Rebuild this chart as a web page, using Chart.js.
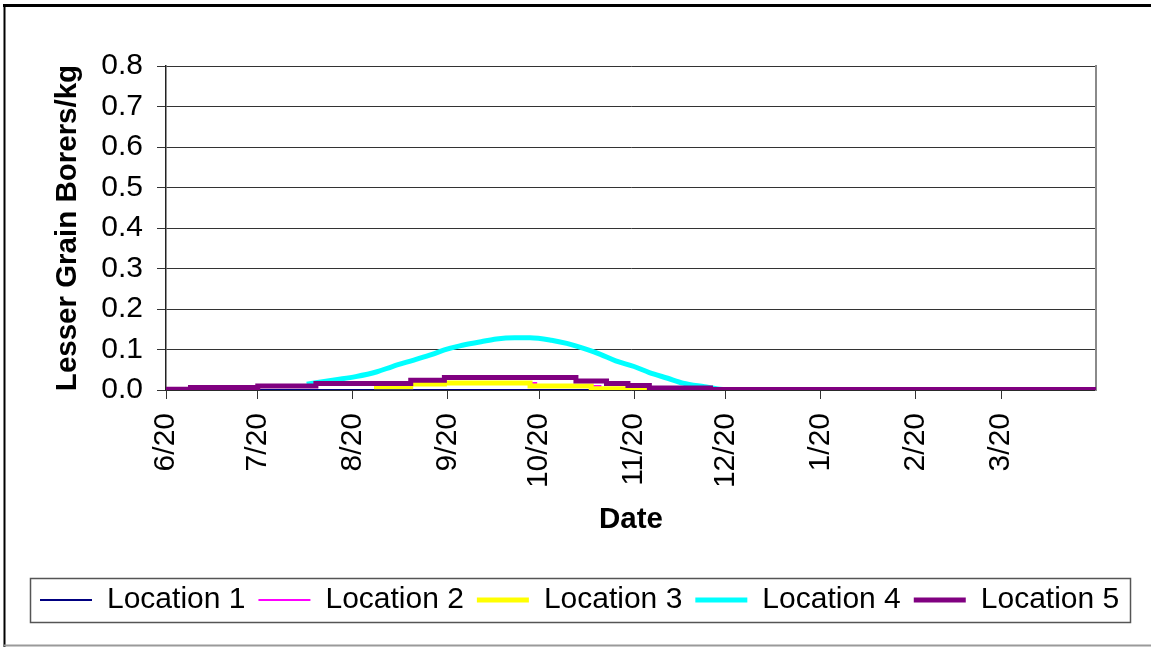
<!DOCTYPE html>
<html>
<head>
<meta charset="utf-8">
<script src="https://cdn.jsdelivr.net/npm/chart.js@4.4.1/dist/chart.umd.min.js"></script>
<style>
  html, body { margin: 0; padding: 0; background: #fff; overflow: hidden; }
  canvas { display: block; }
</style>
</head>
<body>
<canvas id="c" width="1151" height="647"></canvas>
<script>
// Day offsets are counted from 6/20.
const monthTickDays = [0, 30, 61, 92, 122, 153, 183, 214, 245, 273];
const monthTickLabels = ['6/20', '7/20', '8/20', '9/20', '10/20', '11/20', '12/20', '1/20', '2/20', '3/20'];
const firstDay = 0;
const lastDay = 304;

const yTickValues = [0, 0.1, 0.2, 0.3, 0.4, 0.5, 0.6, 0.7, 0.8];

const seriesNames = ['Location 1', 'Location 2', 'Location 3', 'Location 4', 'Location 5'];

const loc1Days = [0, 304];
const loc1Values = [0, 0];

const loc2Days = [68, 80, 91, 121, 142, 163];
const loc2Values = [0.008, 0.015, 0.017, 0.010, 0.003, 0.003];

const loc3Days = [68, 80, 91, 119, 139, 163];
const loc3Values = [0.008, 0.015, 0.017, 0.010, 0.003, 0.003];

const loc4Days = [46, 55, 62, 69, 74, 81, 87, 91, 96, 103, 108, 114, 119, 126, 131, 138, 142, 147, 153, 158, 164, 169, 176, 181, 185];
const loc4Values = [0.014, 0.025, 0.033, 0.045, 0.058, 0.074, 0.088, 0.099, 0.109, 0.119, 0.126, 0.129, 0.129, 0.123, 0.115, 0.099, 0.088, 0.072, 0.058, 0.043, 0.029, 0.017, 0.008, 0.002, 0];

const loc5Days = [0, 8, 30, 49, 80, 91, 134, 144, 151, 158, 178, 304];
const loc5Values = [0.002, 0.006, 0.010, 0.016, 0.024, 0.031, 0.022, 0.016, 0.011, 0.005, 0.001, 0.001];

const toPoints = (days, values) => days.map((d, i) => ({ x: d, y: values[i] }));

const FONT = "'Liberation Sans', Arial, Helvetica, sans-serif";
Chart.defaults.font.family = FONT;
Chart.defaults.color = '#000';

// Outer border of the chart and the box around the legend.
const framePlugin = {
  id: 'frames',
  afterDraw(chart) {
    const ctx = chart.ctx;
    ctx.save();
    ctx.strokeStyle = '#000';
    ctx.lineWidth = 3;
    ctx.beginPath();
    ctx.moveTo(3, 5.5);
    ctx.lineTo(chart.width, 5.5);
    ctx.stroke();
    ctx.lineWidth = 2;
    ctx.beginPath();
    ctx.moveTo(4.5, 4);
    ctx.lineTo(4.5, chart.height);
    ctx.stroke();
    ctx.strokeStyle = '#9a9a9a';
    ctx.beginPath();
    ctx.moveTo(4, chart.height - 1.5);
    ctx.lineTo(chart.width, chart.height - 1.5);
    ctx.stroke();

    const boxes = chart.legend.legendHitBoxes;
    if (boxes && boxes.length) {
      const first = boxes[0];
      const last = boxes[boxes.length - 1];
      const cy = first.top + first.height / 2;
      const x0 = Math.round(first.left - 10) + 0.5;
      const x1 = Math.round(last.left + last.width + 11) + 0.5;
      const y0 = Math.round(cy - 22) + 0.5;
      const y1 = Math.round(cy + 22) + 0.5;
      ctx.strokeStyle = '#555';
      ctx.lineWidth = 1.5;
      ctx.strokeRect(x0, y0, x1 - x0, y1 - y0);
    }
    ctx.restore();
  }
};

const baseLine = { pointRadius: 0, pointHoverRadius: 0, fill: false, pointStyle: 'line' };

new Chart(document.getElementById('c'), {
  type: 'line',
  data: {
    datasets: [
      Object.assign({}, baseLine, {
        label: seriesNames[0], data: toPoints(loc1Days, loc1Values),
        borderColor: '#000080', backgroundColor: '#000080', borderWidth: 2, order: 5
      }),
      Object.assign({}, baseLine, {
        label: seriesNames[1], data: toPoints(loc2Days, loc2Values),
        borderColor: '#ff00ff', backgroundColor: '#ff00ff', borderWidth: 2, stepped: true, order: 4
      }),
      Object.assign({}, baseLine, {
        label: seriesNames[2], data: toPoints(loc3Days, loc3Values),
        borderColor: '#ffff00', backgroundColor: '#ffff00', borderWidth: 5, stepped: true, order: 3
      }),
      Object.assign({}, baseLine, {
        label: seriesNames[3], data: toPoints(loc4Days, loc4Values),
        borderColor: '#00ffff', backgroundColor: '#00ffff', borderWidth: 5,
        cubicInterpolationMode: 'monotone', order: 2
      }),
      Object.assign({}, baseLine, {
        label: seriesNames[4], data: toPoints(loc5Days, loc5Values),
        borderColor: '#800080', backgroundColor: '#800080', borderWidth: 5, stepped: true, order: 1
      })
    ]
  },
  options: {
    responsive: false,
    animation: false,
    events: [],
    layout: { padding: { left: 27, right: 0, top: 66, bottom: 22 } },
    plugins: {
      tooltip: { enabled: false },
      legend: {
        display: true,
        position: 'bottom',
        align: 'start',
        labels: {
          usePointStyle: true,
          pointStyle: 'line',
          pointStyleWidth: 52,
          padding: 13,
          color: '#000',
          font: { size: 30, family: FONT },
          sort: (a, b) => a.datasetIndex - b.datasetIndex
        }
      }
    },
    scales: {
      x: {
        type: 'linear',
        min: firstDay,
        max: lastDay,
        afterBuildTicks(scale) {
          scale.ticks = monthTickDays.map(v => ({ value: v }));
        },
        afterFit(scale) { scale.height = 182; },
        ticks: {
          autoSkip: false,
          minRotation: 90,
          maxRotation: 90,
          padding: 14,
          color: '#000',
          font: { size: 30 },
          callback: (v) => {
            const i = monthTickDays.indexOf(v);
            return i >= 0 ? monthTickLabels[i] : '';
          }
        },
        grid: {
          display: true,
          drawOnChartArea: false,
          drawTicks: true,
          tickLength: 9,
          color: '#333',
          lineWidth: 1
        },
        border: { display: true, color: '#222', width: 1.5 },
        title: {
          display: true,
          text: 'Date',
          color: '#000',
          font: { size: 29.5, weight: 'bold' },
          padding: { top: 4, bottom: 34 }
        }
      },
      y: {
        type: 'linear',
        position: 'left',
        min: 0,
        max: 0.8,
        afterBuildTicks(scale) {
          scale.ticks = yTickValues.map(v => ({ value: v }));
        },
        afterFit(scale) { scale.width = 139; },
        ticks: {
          padding: 14,
          color: '#000',
          font: { size: 30 },
          callback: (v) => Number(v).toFixed(1)
        },
        grid: {
          display: true,
          drawOnChartArea: true,
          drawTicks: true,
          tickLength: 9,
          color: '#333',
          lineWidth: 1
        },
        border: { display: true, color: '#222', width: 1.5 },
        title: {
          display: true,
          text: 'Lesser Grain Borers/kg',
          color: '#000',
          font: { size: 29.5, weight: 'bold' },
          padding: { top: 23, bottom: 4 }
        }
      },
      yRight: {
        type: 'linear',
        position: 'right',
        display: true,
        ticks: { display: false },
        grid: { display: false, drawTicks: false },
        border: { display: true, color: '#8a8a8a', width: 2 },
        afterFit(scale) { scale.width = 55; }
      }
    }
  },
  plugins: [framePlugin]
});
</script>
</body>
</html>
